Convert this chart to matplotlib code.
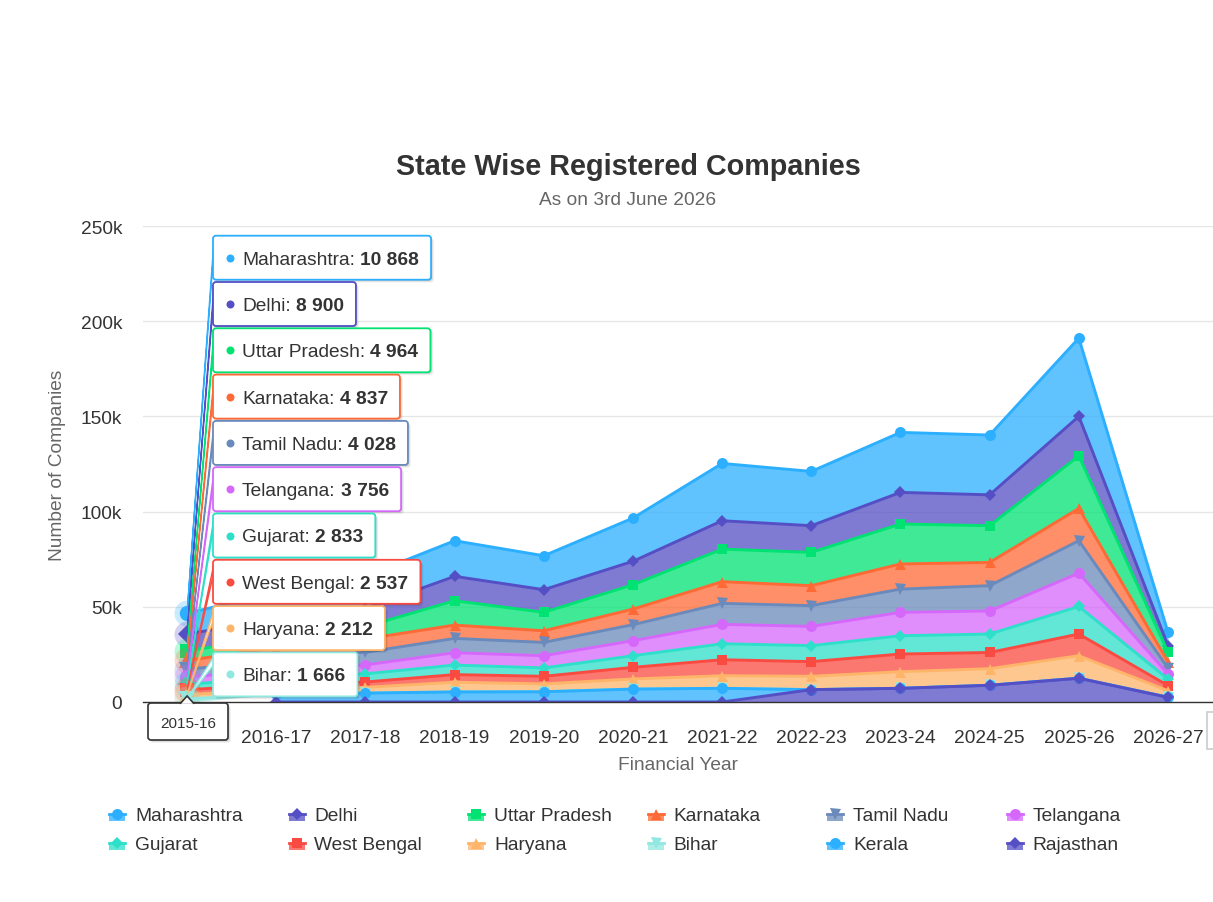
import numpy as np
import matplotlib
matplotlib.use('Agg')
import matplotlib.pyplot as plt
from matplotlib.patches import FancyBboxPatch, Rectangle, Polygon
from matplotlib.ticker import FuncFormatter

plt.rcParams['font.family'] = ['Liberation Sans', 'DejaVu Sans']

# ---------------- data ----------------
years = ['2015-16', '2016-17', '2017-18', '2018-19', '2019-20', '2020-21',
         '2021-22', '2022-23', '2023-24', '2024-25', '2025-26', '2026-27']
states = ['Maharashtra', 'Delhi', 'Uttar Pradesh', 'Karnataka', 'Tamil Nadu',
          'Telangana', 'Gujarat', 'West Bengal', 'Haryana', 'Bihar', 'Kerala',
          'Rajasthan']
maharashtra   = [10868, 14000, 17000, 18700, 17800, 22700, 30100, 28500, 31500, 31400, 41100, 7000]
delhi         = [8900, 9200, 9500, 12800, 11900, 12300, 14900, 14000, 16600, 16200, 20700, 3500]
uttar_pradesh = [4964, 5800, 6500, 12800, 9700, 12800, 17100, 17500, 21000, 19300, 27600, 5100]
karnataka     = [4837, 6000, 7000, 7000, 6100, 8200, 11400, 10500, 13200, 12200, 17000, 3200]
tamil_nadu    = [4028, 5300, 6600, 7500, 7000, 8400, 11000, 10900, 12200, 13300, 17000, 3100]
telangana     = [3756, 4300, 4700, 6500, 6400, 7900, 10200, 10100, 12300, 12100, 17500, 2700]
gujarat       = [2833, 3600, 4300, 5000, 4400, 6100, 8400, 8400, 9600, 9700, 14500, 3400]
west_bengal   = [2537, 2700, 2800, 4000, 4000, 6100, 8400, 7700, 9300, 8500, 11400, 2700]
haryana       = [2212, 2600, 3000, 5100, 4100, 5300, 6600, 7000, 8700, 8700, 11800, 3400]
bihar         = [1666, 0, 0, 0, 0, 0, 0, 0, 0, 0, 0, 0]
kerala        = [None, 4000, 4700, 5300, 5400, 6800, 7200, 0, 0, 0, 0, 0]
rajasthan     = [None, 0, 0, 0, 0, 0, 0, 6500, 7200, 8800, 12500, 2500]

series_values = [maharashtra, delhi, uttar_pradesh, karnataka, tamil_nadu,
                 telangana, gujarat, west_bengal, haryana, bihar, kerala, rajasthan]
colors = ['#2caffe', '#544fc5', '#00e272', '#fe6a35', '#6b8abc', '#d568fb',
          '#2ee0ca', '#fa4b42', '#feb56a', '#91e8e1', '#2caffe', '#544fc5']
symbols = ['o', 'D', 's', '^', 'v']
hover_idx = 0
title = 'State Wise Registered Companies'
subtitle = 'As on 3rd June 2026'

# ---------------- figure ----------------
W, H = 1213, 903
fig = plt.figure(figsize=(W / 100, H / 100), dpi=100)
fig.patch.set_facecolor('white')
PL, PR, PT, PB = 142.5, 1212.6, 227, 703
ax = fig.add_axes([PL / W, (H - PB) / H, (PR - PL) / W, (PB - PT) / H])
ax.set_xlim(-0.5, 11.5)
ax.set_ylim(0, 250000)

vals = np.array([[np.nan if v is None else v for v in s] for s in series_values], float)
filled = np.nan_to_num(vals)
n = len(states)
x = np.arange(len(years))
tops = np.zeros_like(filled)
bottoms = np.zeros_like(filled)
acc = np.zeros(len(years))
for i in range(n - 1, -1, -1):
    bottoms[i] = acc
    acc = acc + filled[i]
    tops[i] = acc

PT2PX = 72 / 100.0
MSZ = {'o': 11, 'D': 9, 's': 9.5, '^': 11, 'v': 11}
for i in range(n):
    c = colors[i]
    mk = symbols[i % 5]
    z = 3 + i * 0.1
    mask = ~np.isnan(vals[i])
    ax.fill_between(x, bottoms[i], tops[i], where=mask, color=c, alpha=0.75,
                    lw=0, zorder=z)
    ax.plot(x[mask], tops[i][mask], color=c, lw=2.1, zorder=z + 0.01,
            solid_joinstyle='round')
    msz = MSZ[mk] * PT2PX
    for j in range(len(years)):
        if not mask[j]:
            continue
        if j == hover_idx:
            ax.plot(x[j], tops[i][j], 'o', ms=26 * PT2PX, color=c, alpha=0.25,
                    mew=0, zorder=z + 0.02)
            ax.plot(x[j], tops[i][j], mk, ms=msz * 1.4, color=c, mew=0,
                    zorder=z + 0.03)
        else:
            ax.plot(x[j], tops[i][j], mk, ms=msz, color=c, mew=0, zorder=z + 0.03)

ax.set_yticks(np.arange(0, 250001, 50000))
ax.yaxis.set_major_formatter(FuncFormatter(lambda v, p: '0' if v == 0 else f'{int(v/1000)}k'))
ax.set_xticks(x)
# first category label is covered by the tooltip header box showing the same text
ax.set_xticklabels([''] + years[1:])
ax.tick_params(axis='both', length=0, labelsize=13.8, colors='#333333')
ax.tick_params(axis='y', pad=14.5)
ax.tick_params(axis='x', pad=19.5)
ax.grid(axis='y', color='#e6e6e6', lw=1)
ax.set_axisbelow(True)
for s in ['top', 'right', 'left']:
    ax.spines[s].set_visible(False)
ax.spines['bottom'].set_color('#333333')
ax.spines['bottom'].set_linewidth(1)
ax.spines['bottom'].set_zorder(10)

# ---------------- overlay (pixel coords) ----------------
ov = fig.add_axes([0, 0, 1, 1], zorder=10)
ov.set_xlim(0, W)
ov.set_ylim(H, 0)
ov.axis('off')
ov.patch.set_alpha(0)

ov.text(628, 167, title, ha='center', va='center', fontsize=20.7,
        fontweight='bold', color='#333333')
ov.text(628, 201, subtitle, ha='center', va='center', fontsize=13.8, color='#666666')
ov.text(58, 465, 'Number of Companies', ha='center', va='center', rotation=90,
        fontsize=13.8, color='#666666')
ov.text(678, 766, 'Financial Year', ha='center', va='center', fontsize=13.8,
        color='#666666')

# legend
for k, name in enumerate(states):
    row, col = divmod(k, 6)
    cx = 117 + 179.5 * col
    cy = 816 + 29 * row
    c = colors[k]
    ov.add_patch(Rectangle((cx - 8, cy - 1), 16, 7, facecolor=c, alpha=0.75, lw=0))
    ov.plot([cx - 8, cx + 8], [cy - 1, cy - 1], color=c, lw=2)
    mk = symbols[k % 5]
    ov.plot(cx, cy - 1, mk, ms=MSZ[mk] * PT2PX, color=c, mew=0)
    ov.text(cx + 18, cy + 1, name, ha='left', va='center', fontsize=13.8, color='#333333')


def shadow_box(x0, y0, w, h, ec):
    for off, a in [(3, 0.05), (2, 0.08), (1, 0.12)]:
        ov.add_patch(FancyBboxPatch((x0 + off, y0 + off), w, h,
                                    boxstyle='round,pad=0,rounding_size=3',
                                    facecolor='black', alpha=a, lw=0, zorder=1))
    ov.add_patch(FancyBboxPatch((x0, y0), w, h, boxstyle='round,pad=0,rounding_size=3',
                                facecolor='white', edgecolor=ec, lw=1.3, zorder=2))


fig.canvas.draw()
renderer = fig.canvas.get_renderer()

# split tooltip
bx = 213
top0 = 236.7
pitch = 46.3
bh = 44
k = 0
for i in range(n):
    v = vals[i][hover_idx]
    if np.isnan(v):
        continue
    c = colors[i]
    by = top0 + pitch * k
    cyc = by + bh / 2 + 1.5
    px, py = ax.transData.transform((x[hover_idx], tops[i][hover_idx]))
    py = H - py
    ov.add_patch(Polygon([[px, py], [bx + 1, by + 4], [bx + 1, by + 12]], closed=True,
                         facecolor='white', edgecolor=c, lw=1.0, zorder=1.5))
    t1 = ov.text(242, cyc, states[i] + ':', ha='left', va='center', fontsize=13.8,
                 color='#333333', zorder=4)
    bb = t1.get_window_extent(renderer)
    x2 = 242 + bb.width + 5.3
    t2 = ov.text(x2, cyc, f'{int(v):,}'.replace(',', ' '), ha='left', va='center',
                 fontsize=13.8, fontweight='bold', color='#333333', zorder=4)
    bb2 = t2.get_window_extent(renderer)
    w = x2 + bb2.width + 12 - bx
    shadow_box(bx, by, w, bh, c)
    ov.plot(230, by + bh / 2, 'o', ms=8 * PT2PX, color=c, mew=0, zorder=4)
    k += 1

# header (category) box
hx0, hy0, hw, hh = 148, 704, 80, 37
px, py = ax.transData.transform((x[hover_idx], 0))
py = H - py
for off, a in [(3, 0.05), (2, 0.08), (1, 0.12)]:
    ov.add_patch(FancyBboxPatch((hx0 + off, hy0 + off), hw, hh,
                                boxstyle='round,pad=0,rounding_size=3',
                                facecolor='black', alpha=a, lw=0, zorder=1))
ov.add_patch(FancyBboxPatch((hx0, hy0), hw, hh, boxstyle='round,pad=0,rounding_size=3',
                            facecolor='white', edgecolor='#333333', lw=1.2, zorder=2))
ov.add_patch(Polygon([[px - 7, hy0 + 0.8], [px, py - 6], [px + 7, hy0 + 0.8]], closed=False,
                     facecolor='white', edgecolor='#333333', lw=1.2, zorder=2.5))
ov.text(hx0 + hw / 2, hy0 + hh / 2 + 1.5, years[hover_idx], ha='center', va='center',
        fontsize=11, color='#333333', zorder=4)

# partially visible element at right edge
ov.add_patch(Rectangle((1207, 713), 20, 37, facecolor='white', edgecolor='#cccccc', lw=1.2))

fig.savefig('out.png', dpi=100, facecolor='white')
